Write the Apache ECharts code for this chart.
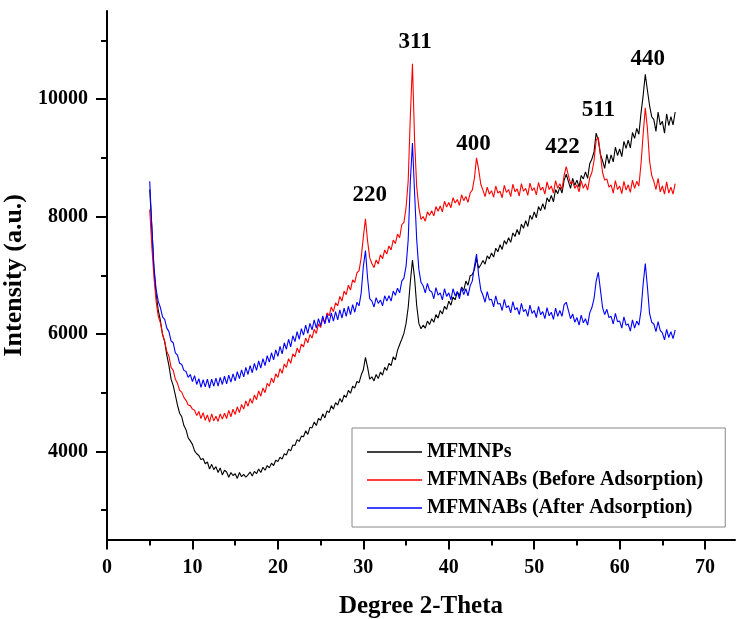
<!DOCTYPE html>
<html>
<head>
<meta charset="utf-8">
<script src="https://cdn.jsdelivr.net/npm/echarts@6/dist/echarts.min.js"></script>
<style>
  html, body { margin: 0; padding: 0; background: #fff; }
  #chart { width: 739px; height: 619px; }
</style>
</head>
<body>
<div id="chart"></div>
<script>
// intensities, one value every 0.25 degree from 5 to 66.5
const mfmnps = [
  8460, 7820, 7080, 6680, // 5
  6400, 6230, 5990, 5870,
  5640, 5460, 5230, 5120,
  4960, 4790, 4650, 4590,
  4440, 4370, 4230, 4180,
  4120, 4010, 3960, 3930, // 10
  3860, 3880, 3790, 3820,
  3700, 3780, 3690, 3740,
  3640, 3720, 3600, 3680,
  3650, 3560, 3640, 3590,
  3620, 3540, 3640, 3570, // 15
  3610, 3560, 3600, 3650,
  3580, 3660, 3620, 3700,
  3640, 3730, 3680, 3760,
  3720, 3800, 3760, 3850,
  3830, 3900, 3870, 3960, // 20
  3940, 4040, 4010, 4110,
  4100, 4200, 4170, 4260,
  4250, 4350, 4290, 4410,
  4400, 4500, 4440, 4560,
  4530, 4640, 4570, 4690, // 25
  4660, 4780, 4720, 4830,
  4790, 4900, 4840, 4960,
  4920, 5040, 4990, 5110,
  5080, 5190, 5170, 5300,
  5390, 5600, 5430, 5230, // 30
  5270, 5200, 5310, 5240,
  5350, 5300, 5430, 5380,
  5500, 5460, 5610, 5560,
  5720, 5820, 5910, 6010,
  6180, 6450, 6880, 7260, // 35
  6950, 6480, 6180, 6090,
  6150, 6100, 6220, 6160,
  6260, 6200, 6330, 6270,
  6400, 6340, 6470, 6420,
  6560, 6490, 6630, 6580, // 40
  6720, 6650, 6800, 6740,
  6900, 6830, 6990, 7010,
  7100, 7280, 7120, 7180,
  7250, 7190, 7330, 7280,
  7380, 7310, 7460, 7400, // 45
  7520, 7440, 7590, 7530,
  7640, 7560, 7720, 7660,
  7780, 7690, 7870, 7800,
  7930, 7830, 8020, 7950,
  8080, 7980, 8170, 8100, // 50
  8220, 8120, 8320, 8250,
  8360, 8250, 8460, 8390,
  8500, 8400, 8620, 8720,
  8600, 8480, 8650, 8530,
  8620, 8500, 8700, 8640, // 55
  8760, 8650, 8900, 8980,
  9100, 9420, 9300, 9060,
  8950, 8820, 9060, 8900,
  9050, 8930, 9180, 9040,
  9150, 9020, 9280, 9160, // 60
  9300, 9170, 9430, 9330,
  9500, 9400, 9760, 10060,
  10420, 10150, 9890, 9700,
  9650, 9450, 9780, 9560,
  9620, 9420, 9750, 9550, // 65
  9700, 9560, 9780
];

const beforeAds = [
  8120, 7480, 6960, 6560, // 5
  6300, 6190, 6000, 5880,
  5700, 5620, 5430, 5380,
  5230, 5160, 5040, 5010,
  4920, 4870, 4790, 4780,
  4720, 4700, 4610, 4680, // 10
  4560, 4660, 4530, 4620,
  4500, 4640, 4520, 4600,
  4510, 4640, 4550, 4650,
  4560, 4700, 4590, 4720,
  4630, 4760, 4660, 4800, // 15
  4720, 4860, 4770, 4900,
  4820, 4960, 4880, 5030,
  4940, 5080, 5000, 5160,
  5110, 5250, 5170, 5320,
  5260, 5410, 5330, 5490, // 20
  5430, 5580, 5500, 5660,
  5610, 5760, 5680, 5830,
  5780, 5930, 5850, 5990,
  5930, 6080, 6010, 6170,
  6110, 6270, 6190, 6360, // 25
  6310, 6460, 6380, 6530,
  6480, 6640, 6560, 6730,
  6670, 6830, 6750, 6920,
  6880, 7040, 7080, 7300,
  7650, 7960, 7580, 7300, // 30
  7200, 7130, 7260, 7190,
  7350, 7280, 7430, 7360,
  7500, 7430, 7600, 7540,
  7700, 7640, 7860, 7900,
  8150, 8600, 9700, 10600, // 35
  9300, 8500, 8150, 7950,
  8000, 7920, 8080, 8020,
  8100, 8010, 8170, 8090,
  8180, 8080, 8260, 8160,
  8240, 8150, 8320, 8230, // 40
  8290, 8190, 8370, 8270,
  8340, 8240, 8400, 8450,
  8650, 9000, 8800, 8550,
  8450, 8340, 8500, 8380,
  8440, 8330, 8520, 8400, // 45
  8430, 8320, 8530, 8410,
  8460, 8340, 8550, 8420,
  8470, 8350, 8560, 8430,
  8480, 8360, 8570, 8440,
  8490, 8370, 8580, 8450, // 50
  8500, 8380, 8590, 8460,
  8520, 8400, 8610, 8480,
  8560, 8460, 8700, 8850,
  8700, 8560, 8600, 8480,
  8540, 8420, 8610, 8480, // 55
  8560, 8450, 8660, 8750,
  8950, 9300, 9350, 9050,
  8750, 8620, 8640, 8500,
  8540, 8400, 8610, 8460,
  8520, 8390, 8600, 8450, // 60
  8540, 8410, 8620, 8480,
  8600, 8520, 8900, 9400,
  9850, 9500, 8950, 8700,
  8600, 8460, 8650, 8420,
  8520, 8380, 8590, 8400, // 65
  8500, 8380, 8560
];

const afterAds = [
  8600, 7800, 7140, 6760, // 5
  6550, 6450, 6290, 6250,
  6100, 6040, 5880, 5850,
  5680, 5640, 5500, 5480,
  5380, 5360, 5260, 5310,
  5190, 5290, 5140, 5240, // 10
  5090, 5220, 5100, 5230,
  5080, 5230, 5110, 5250,
  5110, 5260, 5140, 5280,
  5150, 5300, 5180, 5320,
  5200, 5360, 5240, 5390, // 15
  5270, 5430, 5310, 5460,
  5340, 5500, 5380, 5540,
  5420, 5580, 5460, 5630,
  5520, 5680, 5560, 5730,
  5620, 5790, 5660, 5850, // 20
  5740, 5910, 5780, 5970,
  5870, 6040, 5910, 6090,
  5980, 6150, 6010, 6180,
  6070, 6240, 6100, 6260,
  6140, 6310, 6170, 6330, // 25
  6190, 6360, 6220, 6380,
  6240, 6410, 6270, 6440,
  6300, 6470, 6330, 6500,
  6370, 6540, 6480, 6700,
  7150, 7420, 6950, 6600, // 30
  6560, 6460, 6620, 6520,
  6580, 6480, 6650, 6560,
  6650, 6560, 6730, 6660,
  6780, 6700, 6900, 6950,
  7150, 7600, 8600, 9250, // 35
  8400, 7600, 7100, 6880,
  6820, 6700, 6860, 6740,
  6720, 6600, 6790, 6660,
  6700, 6580, 6770, 6640,
  6700, 6580, 6770, 6650, // 40
  6720, 6600, 6790, 6670,
  6770, 6650, 6820, 6900,
  7150, 7360, 7000, 6750,
  6660, 6540, 6720, 6580,
  6590, 6460, 6650, 6510, // 45
  6520, 6400, 6590, 6450,
  6480, 6360, 6550, 6410,
  6450, 6330, 6520, 6380,
  6420, 6300, 6490, 6350,
  6400, 6280, 6470, 6330, // 50
  6380, 6260, 6450, 6310,
  6370, 6250, 6440, 6300,
  6400, 6300, 6500, 6540,
  6400, 6260, 6340, 6200,
  6280, 6150, 6320, 6190, // 55
  6260, 6150, 6360, 6450,
  6600, 6900, 7050, 6750,
  6450, 6330, 6420, 6280,
  6300, 6170, 6350, 6210,
  6220, 6100, 6290, 6150, // 60
  6170, 6050, 6240, 6100,
  6220, 6150, 6400, 6850,
  7200, 6800, 6350, 6200,
  6170, 6040, 6210, 6060,
  6020, 5900, 6080, 5940, // 65
  6040, 5920, 6070
];

const seriesNames = ["MFMNPs", "MFMNABs (Before Adsorption)", "MFMNABs (After Adsorption)"];

// scan grid: 5 deg start, 0.25 deg step
const twoTheta = mfmnps.map((_, i) => 5 + i * 0.25);

const peakNames = ["220", "311", "400", "422", "511", "440"];
const peakAngles = [30.75, 36.05, 42.9, 53.3, 57.5, 63.3];
const peakLabelY = [8360, 10970, 9230, 9180, 9820, 10680];

const xLabels = [0, 10, 20, 30, 40, 50, 60, 70];
const xMinor = [5, 15, 25, 35, 45, 55, 65];
const yLabels = [4000, 6000, 8000, 10000];
const yMinor = [3000, 5000, 7000, 9000, 11000];

const FONT = "Liberation Serif";

const chart = echarts.init(document.getElementById("chart"));

const pairs = ys => ys.map((v, i) => [twoTheta[i], v]);

const axisCommon = {
  type: "value",
  axisLine: {show: true, lineStyle: {color: "#000", width: 2}},
  splitLine: {show: false}
};

const option = {
  animation: false,
  grid: {left: 107, right: 4, top: 11, bottom: 79.5, outerBoundsMode: "none"},
  xAxis: [
    {
      ...axisCommon,
      min: 0,
      max: 73.5,
      name: "Degree 2-Theta",
      nameLocation: "middle",
      nameGap: 55,
      nameTextStyle: {fontFamily: FONT, fontWeight: "bold", fontSize: 25, color: "#000"},
      axisTick: {customValues: xLabels, length: 10, lineStyle: {color: "#000", width: 2}},
      axisLabel: {customValues: xLabels, margin: 18, fontFamily: FONT, fontWeight: "bold", fontSize: 20, color: "#000"}
    },
    {
      ...axisCommon,
      min: 0,
      max: 73.5,
      position: "bottom",
      axisLine: {show: false},
      axisTick: {customValues: xMinor, length: 6, lineStyle: {color: "#000", width: 2}},
      axisLabel: {show: false}
    }
  ],
  yAxis: [
    {
      ...axisCommon,
      min: 2500,
      max: 11500,
      name: "Intensity (a.u.)",
      nameLocation: "middle",
      nameGap: 68,
      nameTextStyle: {fontFamily: FONT, fontWeight: "bold", fontSize: 26, color: "#000"},
      axisTick: {customValues: yLabels, length: 11, lineStyle: {color: "#000", width: 2}},
      axisLabel: {
        customValues: yLabels,
        margin: 19,
        formatter: v => String(v),
        fontFamily: FONT, fontWeight: "bold", fontSize: 20, color: "#000"
      }
    },
    {
      ...axisCommon,
      min: 2500,
      max: 11500,
      position: "left",
      axisLine: {show: false},
      axisTick: {customValues: yMinor, length: 6, lineStyle: {color: "#000", width: 2}},
      axisLabel: {show: false}
    }
  ],
  legend: {
    data: seriesNames,
    orient: "vertical",
    left: 352,
    top: 428,
    padding: [14, 22, 9, 15],
    itemGap: 8,
    itemWidth: 55,
    itemHeight: 1.5,
    icon: "rect",
    borderColor: "#888",
    borderWidth: 1,
    backgroundColor: "#fff",
    textStyle: {fontFamily: FONT, fontWeight: "bold", fontSize: 20, lineHeight: 20, color: "#000"}
  },
  series: [
    {name: seriesNames[0], type: "line", data: pairs(mfmnps), color: "#000000"},
    {name: seriesNames[1], type: "line", data: pairs(beforeAds), color: "#ff0000"},
    {name: seriesNames[2], type: "line", data: pairs(afterAds), color: "#0000ff"}
  ].map(s => ({
    ...s,
    showSymbol: false,
    symbol: "none",
    sampling: null,
    lineStyle: {width: 1.1},
    emphasis: {disabled: true}
  })).concat([{
    type: "scatter",
    silent: true,
    symbol: "circle",
    symbolSize: 1,
    itemStyle: {color: "rgba(0,0,0,0)", opacity: 1},
    data: peakNames.map((n, i) => ({name: n, value: [peakAngles[i], peakLabelY[i]]})),
    label: {
      show: true,
      position: "inside",
      formatter: "{b}",
      fontFamily: FONT,
      fontWeight: "bold",
      fontSize: 23,
      color: "#000",
      opacity: 1,
      textBorderWidth: 0
    }
  }])
};

chart.setOption(option);
</script>
</body>
</html>
